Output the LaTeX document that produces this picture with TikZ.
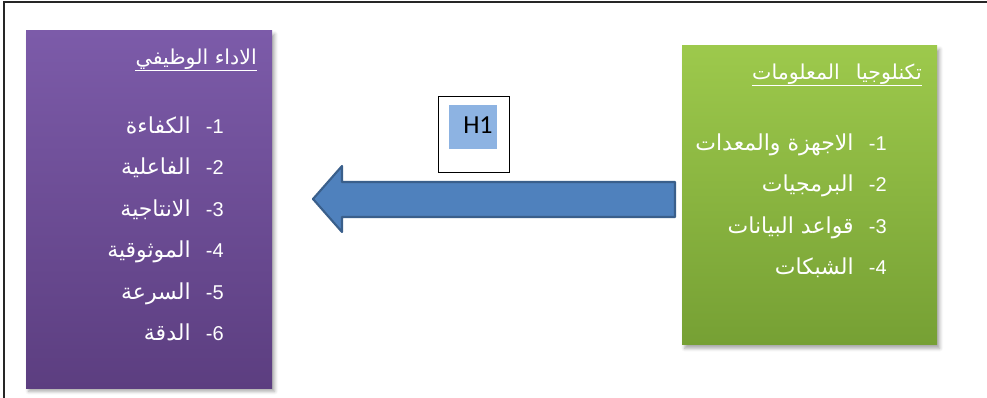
\documentclass[tikz,border=0pt]{standalone}
\usepackage{fontspec}
\setmainfont{Liberation Sans}
\newfontfamily\arabicfont[Script=Arabic, Scale=1.1]{DejaVu Sans}
\newfontfamily\hypfont{Carlito}
\TeXXeTstate=1
\usetikzlibrary{shadows.blur}

\definecolor{perfTop}{HTML}{7C5BA9}
\definecolor{perfBot}{HTML}{5C3E80}
\definecolor{techTop}{HTML}{9DC94C}
\definecolor{techBot}{HTML}{76A034}
\definecolor{arrowFill}{HTML}{4F81BD}
\definecolor{arrowLine}{HTML}{3A5F8B}
\definecolor{hypMark}{HTML}{8DB3E2}

\newcommand{\ar}[1]{{\arabicfont\beginR #1\endR}}

\tikzset{
  panel/.style={inner sep=0pt, blur shadow={shadow xshift=2pt, shadow yshift=-2.5pt,
      shadow blur radius=2.5pt, shadow opacity=35}},
  listitem/.style={anchor=base east, inner sep=0pt, text=white, font=\fontsize{15}{18}\selectfont},
  paneltitle/.style={anchor=base east, inner sep=0pt, text=white, font=\fontsize{14}{17}\selectfont},
}

\begin{document}
\begin{tikzpicture}[x=0.75pt, y=-0.75pt]
    \useasboundingbox (0,0) rectangle (987,398);
    %! --- page frame ---
    \draw[black!85, line width=0.8pt] (4,398) -- (4,2) -- (987,2);

    %! --- left panel: job performance ---
    \fill[panel, top color=perfTop, bottom color=perfBot] (26,31) rectangle (272,388);
    \node[paneltitle] (perfTitle) at (257,65) {\ar{الاداء الوظيفي}};
    \draw[white, line width=0.6pt] (perfTitle.south west) -- (perfTitle.south east);
    % performance items
    \foreach \i/\w in {1/الكفاءة,2/الفاعلية,3/الانتاجية,4/الموثوقية,5/السرعة,6/الدقة} {
        \node[listitem] (perf\i) at (224,{133.5+41.4*(\i-1)}) {\ar{\w}\hspace{11.5pt}-\i};
    }

    %! --- right panel: information technology ---
    \fill[panel, top color=techTop, bottom color=techBot] (682,46) rectangle (937,345);
    \node[paneltitle] (techTitle) at (922,80) {\ar{تكنلوجيا\hspace{12pt}المعلومات}};
    \draw[white, line width=0.6pt] (techTitle.south west) -- (techTitle.south east);
    % technology items
    \foreach \i/\w in {1/الاجهزة والمعدات,2/البرمجيات,3/قواعد البيانات,4/الشبكات} {
        \node[listitem] (tech\i) at (887,{150.5+41.5*(\i-1)}) {\ar{\w}\hspace{11.5pt}-\i};
    }

    %! --- block arrow ---
    \coordinate (tip) at (313,199);
    \coordinate (tail) at (675,199);
    \filldraw[fill=arrowFill, draw=arrowLine, line width=1.6pt, line join=round]
        (tip) -- (342,166) -- (342,182) -- (675,182) -- (675,217)
        -- (342,217) -- (342,232) -- cycle;

    %! --- hypothesis label ---
    \node[draw=black, line width=0.6pt, minimum width=53.25pt, minimum height=57pt] (hypBox) at (473.5,134) {};
    \fill[hypMark] (449,105) rectangle (497,149);
    \node[anchor=base west, inner sep=0pt, font=\hypfont\fontsize{19.5}{22}\selectfont] (hyp) at (463,134) {H1};
\end{tikzpicture}
\end{document}
